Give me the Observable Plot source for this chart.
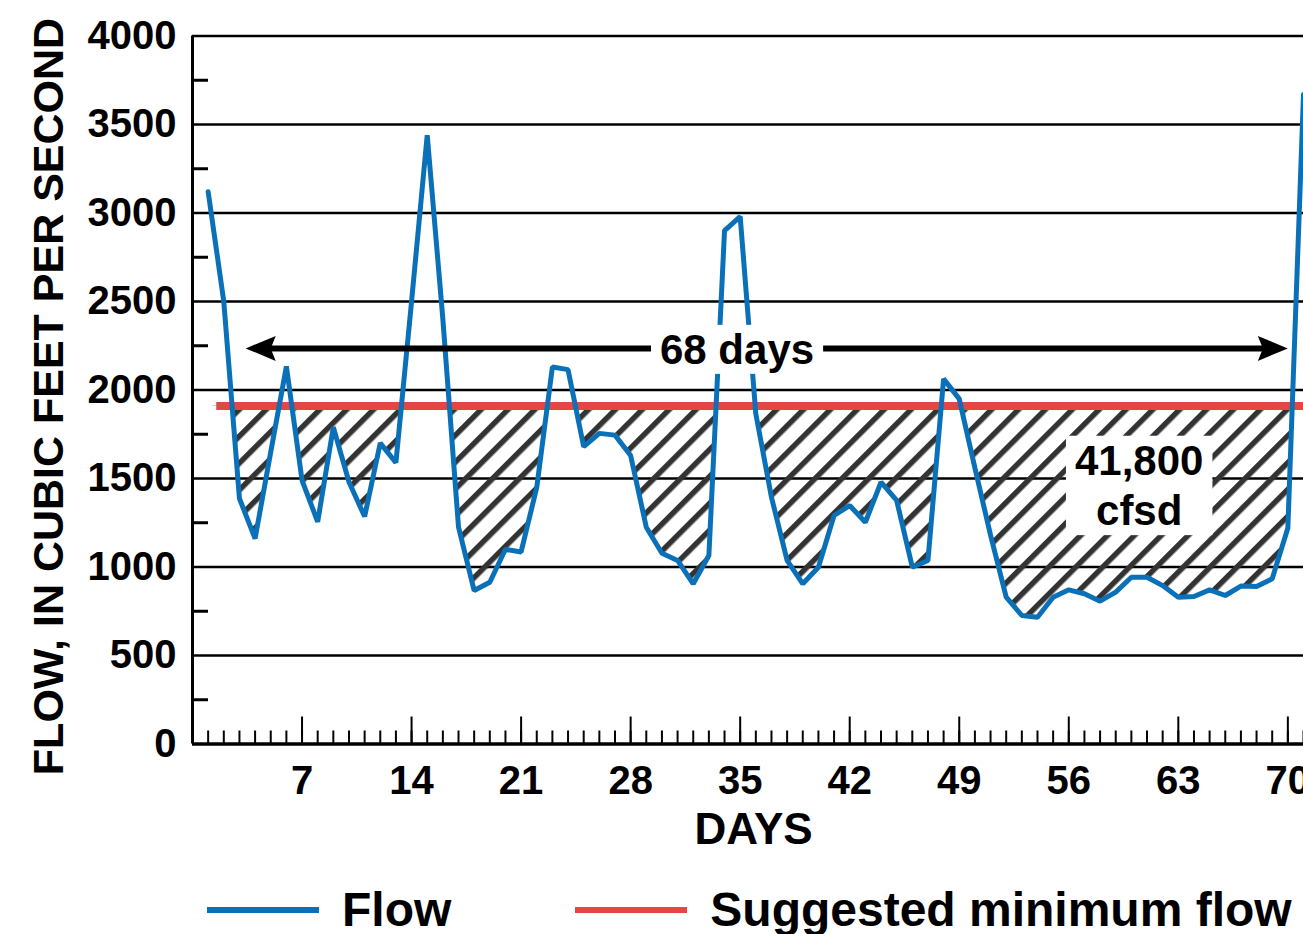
<!DOCTYPE html>
<html>
<head>
<meta charset="utf-8">
<script src="https://cdn.jsdelivr.net/npm/d3@7"></script>
<script src="https://cdn.jsdelivr.net/npm/@observablehq/plot@0.6"></script>
<style>
  html, body { margin: 0; padding: 0; background: #fff; overflow: hidden; width: 1303px; height: 934px; }
  #legend { display: flex; align-items: center; height: 48px; padding-top: 24px; padding-left: 207px;
    font-family: "Liberation Sans", Arial, sans-serif; font-weight: bold; font-size: 48px; line-height: 48px; white-space: nowrap; }
  .sw { display: inline-block; width: 112px; height: 6px; flex: none; }
</style>
</head>
<body>
<svg width="0" height="0" style="position:absolute">
  <defs>
    <pattern id="hatch" patternUnits="userSpaceOnUse" width="19" height="19" patternTransform="rotate(45)">
      <rect x="0" y="0" width="5.5" height="19" fill="#333"></rect>
    </pattern>
  </defs>
</svg>
<div id="chart"></div>
<div id="legend"></div>
<script>
// ---- data ----
const days = [1,2,3,4,5,6,7,8,9,10,11,12,13,14,15,16,17,18,19,20,21,22,23,24,25,26,27,28,29,30,31,32,33,34,35,36,37,38,39,40,41,42,43,44,45,46,47,48,49,50,51,52,53,54,55,56,57,58,59,60,61,62,63,64,65,66,67,68,69,70,71];
const flow = [3120,2500,1387,1160,1650,2133,1490,1255,1790,1480,1285,1700,1590,2500,3440,2400,1225,867,914,1100,
              1085,1450,2130,2115,1680,1755,1745,1630,1225,1078,1037,905,1065,2900,2980,1865,1394,1037,905,999,
              1291,1347,1253,1479,1376,999,1037,2063,1950,1560,1180,830,726,716,829,871,849,807,858,942,
              942,895,829,833,871,839,892,890,933,1220,3670];
const minimumFlow = 1910;
const minimumFlowStart = 1.55;

const yTicks = [0,500,1000,1500,2000,2500,3000,3500,4000];
const yGrid = [500,1000,1500,2000,2500,3000,3500,4000];
const yMinorTicks = [250,750,1250,1750,2250,2750,3250,3750];
const xLabelTicks = [7,14,21,28,35,42,49,56,63,70];
const xMax = 71;

const arrowFlow = 2235;
const arrowStart = 3.4;
const arrowEnd = 70.0;
const arrowLabel = "68 days";
const arrowLabelDay = 34.8;
const deficitLabel = "41,800\ncfsd";
const deficitDay = 60.5;
const deficitFlow = 1470;

const yTitle = "FLOW, IN CUBIC FEET PER SECOND";
const xTitle = "DAYS";
const legendItems = [
  {label: "Flow", color: "#0a71b9", gap: 124},
  {label: "Suggested minimum flow", color: "#e24744", gap: 0}
];

const flowColor = "#0a71b9";
const minColor = "#e24744";

// ---- build ----
const data = days.map((d, i) => ({day: d, flow: flow[i]}));

const leftHead = {draw(ctx) { ctx.moveTo(0, 0); ctx.lineTo(30, -12.5); ctx.lineTo(25, 0); ctx.lineTo(30, 12.5); ctx.closePath(); }};
const rightHead = {draw(ctx) { ctx.moveTo(0, 0); ctx.lineTo(-30, -12.5); ctx.lineTo(-25, 0); ctx.lineTo(-30, 12.5); ctx.closePath(); }};

const font = "'Liberation Sans', Arial, Helvetica, sans-serif";

const plot = Plot.plot({
  width: 1303,
  height: 862,
  marginLeft: 192,
  marginRight: 0,
  marginTop: 35.5,
  marginBottom: 118.5,
  x: {domain: [0, xMax]},
  y: {domain: [0, 4000]},
  style: {fontFamily: font, fontWeight: "bold", background: "white", color: "black", overflow: "hidden"},
  marks: [
    Plot.ruleY(yGrid, {stroke: "black", strokeWidth: 2.6}),
    Plot.areaY(data, {x: "day", y1: () => minimumFlow, y2: "flow", fill: "url(#hatch)", className: "hatch-area"}),
    Plot.axisX({ticks: days, tickSize: -13, strokeWidth: 2, tickFormat: () => "", label: null}),
    Plot.axisX({ticks: xLabelTicks, tickSize: -27, strokeWidth: 2, tickFormat: () => "", label: null}),
    Plot.axisY({ticks: yMinorTicks, tickSize: -16, strokeWidth: 3, tickFormat: () => "", label: null}),
    Plot.ruleX([0], {stroke: "black", strokeWidth: 3}),
    Plot.ruleY([0], {stroke: "black", strokeWidth: 3.5}),
    Plot.ruleY([minimumFlow], {x1: minimumFlowStart, x2: xMax, stroke: minColor, strokeWidth: 8}),
    Plot.line(data, {x: "day", y: "flow", stroke: flowColor, strokeWidth: 5, strokeLinejoin: "miter"}),
    Plot.ruleY([arrowFlow], {x1: arrowStart, x2: arrowEnd, stroke: "black", strokeWidth: 6, insetLeft: 22, insetRight: 22}),
    Plot.dot([arrowStart], {x: d => d, y: () => arrowFlow, symbol: leftHead, fill: "black", stroke: "none"}),
    Plot.dot([arrowEnd], {x: d => d, y: () => arrowFlow, symbol: rightHead, fill: "black", stroke: "none"}),
    Plot.text([arrowLabel], {x: () => arrowLabelDay, y: () => arrowFlow, text: d => d, fontSize: 42, dy: 2, fill: "black", className: "boxed"}),
    Plot.text([deficitLabel], {x: () => deficitDay, y: () => deficitFlow, text: d => d, fontSize: 42, lineHeight: 1.2, fill: "black", className: "boxed"}),
    Plot.axisY({ticks: yTicks, tickSize: 0, tickPadding: 16, fontSize: 40, tickFormat: d => String(d), label: null}),
    Plot.axisX({ticks: xLabelTicks, tickSize: 0, tickPadding: 21.5, fontSize: 40, tickFormat: d => String(d), label: null}),
    Plot.text([yTitle], {frameAnchor: "left", textAnchor: "middle", rotate: -90, dx: -143, dy: 6.5, fontSize: 43, text: d => d, fill: "black"}),
    Plot.text([xTitle], {frameAnchor: "bottom", textAnchor: "middle", lineAnchor: "top", dy: 69, dx: 5.5, fontSize: 44, text: d => d, fill: "black"})
  ]
});

document.getElementById("chart").append(plot);

// clip the hatch to the region below the suggested minimum flow
const ys = plot.scale("y");
const y0 = ys.apply(0), yT = ys.apply(minimumFlow);
const svg = d3.select(plot);
const defs = svg.insert("defs", ":first-child");
defs.append("clipPath").attr("id", "below-min")
  .append("rect").attr("x", 0).attr("y", yT).attr("width", 1303).attr("height", y0 - yT);
svg.selectAll("g.hatch-area").attr("clip-path", "url(#below-min)");

// white boxes behind annotation texts
svg.selectAll("g.boxed text").each(function() {
  const b = this.getBBox();
  const r = document.createElementNS("http://www.w3.org/2000/svg", "rect");
  r.setAttribute("x", b.x - 9);
  r.setAttribute("y", b.y - 1);
  r.setAttribute("width", b.width + 18);
  r.setAttribute("height", b.height + 2);
  r.setAttribute("fill", "white");
  r.setAttribute("stroke", "none");
  const t = this.getAttribute("transform");
  if (t) r.setAttribute("transform", t);
  this.parentNode.insertBefore(r, this);
});

// legend
const legend = d3.select("#legend");
legendItems.forEach(item => {
  legend.append("span").attr("class", "sw").style("background", item.color);
  legend.append("span").style("margin-left", "23px").style("margin-right", item.gap + "px").text(item.label);
});
</script>
</body>
</html>
